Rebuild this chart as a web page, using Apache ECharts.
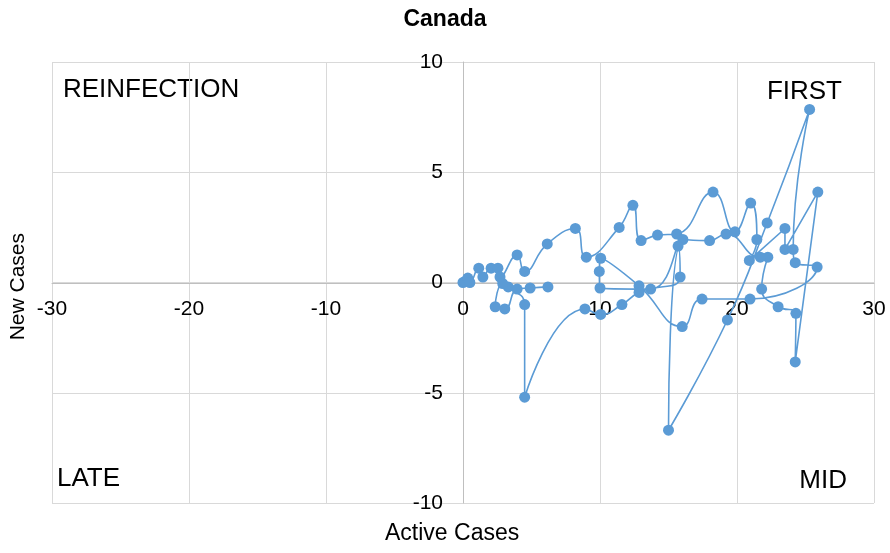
<!DOCTYPE html>
<html><head><meta charset="utf-8">
<script src="https://cdn.jsdelivr.net/npm/echarts@6/dist/echarts.min.js"></script>
<style>html,body{margin:0;padding:0;background:#fff}#c{width:890px;height:553px}</style>
</head><body><div id="c"></div>
<script>
const activeCases = [0,0.15,0.35,0.5,1.15,1.45,2.05,2.55,2.7,3.95,4.5,6.15,8.2,9.0,11.4,12.4,13.0,14.2,15.6,18.25,19.85,21.0,21.45,20.9,23.5,23.5,25.9,24.25,24.3,23.0,21.8,22.25,21.7,19.2,18.0,16.05,15.0,19.3,22.2,25.3,24.1,24.25,25.85,20.95,17.45,16.0,12.85,10.05,9.95,10.0,13.7,15.7,15.85,12.85,11.6,10.05,8.9,4.5,4.5,3.3,2.9,2.35,3.05,3.95,4.9,6.2];
const newCases = [0,0.05,0.2,0,0.65,0.25,0.65,0.65,0.25,1.25,0.5,1.75,2.45,1.15,2.5,3.5,1.9,2.15,2.2,4.1,2.3,3.6,1.95,1.0,2.45,1.5,4.1,-3.6,-1.4,-1.1,-0.3,1.15,1.15,2.2,1.9,1.95,-6.7,-1.7,2.7,7.85,1.5,0.9,0.7,-0.75,-0.75,-2.0,-0.15,1.1,0.5,-0.25,-0.3,1.65,0.25,-0.45,-1.0,-1.45,-1.2,-5.2,-1.0,-0.2,-0.05,-1.1,-1.2,-0.3,-0.25,-0.2];
const xTicks = {min:-30, max:30, interval:10};
const yTicks = {min:-10, max:10, interval:5};
const quadrantLabels = ['REINFECTION','FIRST','LATE','MID'];
const chartTitle = 'Canada';
const xName = 'Active Cases';
const yName = 'New Cases';

const pts = activeCases.map((x,i)=>[x,newCases[i]]);
const font = 'Liberation Sans, Arial, sans-serif';
const chart = echarts.init(document.getElementById('c'));
chart.setOption({
  animation:false,
  title:{text:chartTitle,left:'center',top:3,textStyle:{fontFamily:font,fontSize:23,fontWeight:'bold',color:'#000'}},
  grid:{left:52,right:16,top:62,bottom:50},
  xAxis:[{type:'value',min:xTicks.min,max:xTicks.max,interval:xTicks.interval,
    axisLine:{show:false},axisTick:{show:false},axisLabel:{show:false},
    splitLine:{show:true,lineStyle:{color:'#d9d9d9',width:1}}},
   {type:'value',min:xTicks.min,max:xTicks.max,interval:xTicks.interval,position:'bottom',offset:-220,
    axisLine:{show:true,onZero:false,lineStyle:{color:'#bfbfbf',width:1}},axisTick:{show:false},
    axisLabel:{margin:16,fontFamily:font,fontSize:21,color:'#000'},splitLine:{show:false}}],
  yAxis:[{type:'value',min:yTicks.min,max:yTicks.max,interval:yTicks.interval,
    axisLine:{show:false},axisTick:{show:false},axisLabel:{show:false},
    splitLine:{show:true,lineStyle:{color:'#d9d9d9',width:1}}},
   {type:'value',min:yTicks.min,max:yTicks.max,interval:yTicks.interval,position:'left',offset:-411,
    axisLine:{show:true,onZero:false,lineStyle:{color:'#bfbfbf',width:1}},axisTick:{show:false},
    axisLabel:{margin:20,fontFamily:font,fontSize:21,color:'#000'},splitLine:{show:false}}],
  graphic:[
    {type:'text',left:63,top:77,style:{text:quadrantLabels[0],font:'26px '+font,fill:'#000'}},
    {type:'text',right:48,top:79,style:{text:quadrantLabels[1],font:'26px '+font,fill:'#000'}},
    {type:'text',left:57,top:466,style:{text:quadrantLabels[2],font:'26px '+font,fill:'#000'}},
    {type:'text',right:43,top:468,style:{text:quadrantLabels[3],font:'26px '+font,fill:'#000'}},
    {type:'text',left:385,top:522,style:{text:xName,font:'23px '+font,fill:'#000'}},
    {type:'text',left:8,top:233,rotation:Math.PI/2,style:{text:yName,font:'21px '+font,fill:'#000'}}
  ],
  series:[{type:'line',xAxisIndex:0,yAxisIndex:0,data:pts,smooth:0.5,symbol:'circle',symbolSize:11,
    lineStyle:{color:'#5b9bd5',width:1.6},itemStyle:{color:'#5b9bd5'}}]
});
</script></body></html>
